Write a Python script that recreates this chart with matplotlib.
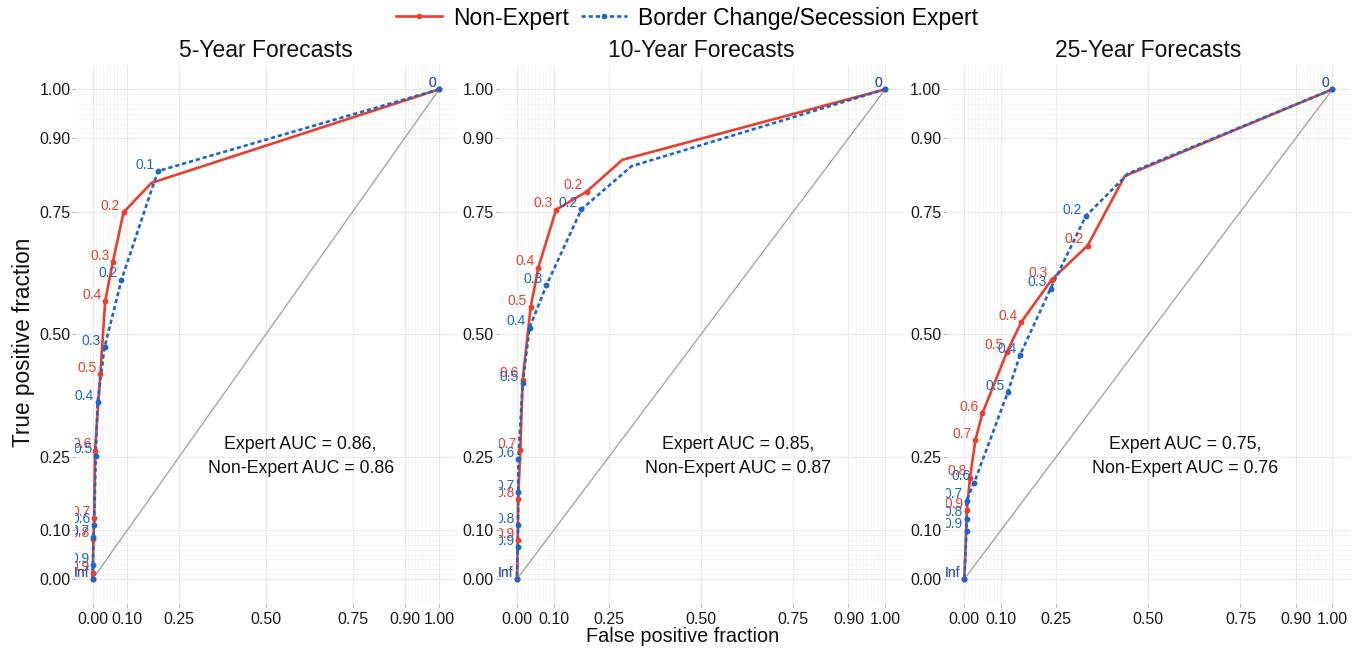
import matplotlib.pyplot as plt
from matplotlib.lines import Line2D

plt.rcParams['font.family'] = ['Liberation Sans', 'DejaVu Sans']

RED = "#EA3F2E"
BLUE = "#1D66C8"

titles = ["5-Year Forecasts", "10-Year Forecasts", "25-Year Forecasts"]
auc_expert = ["0.86", "0.85", "0.75"]
auc_non = ["0.86", "0.87", "0.76"]

# cutoff labels along each curve (None = vertex without a label)
non_labels = ["0", None, "0.2", "0.3", "0.4", "0.5", "0.6", "0.7", "0.8", "0.9", "Inf"]
exp_labels = ["0", None, "0.2", "0.3", "0.4", "0.5", "0.6", "0.7", "0.8", "0.9", "Inf"]
exp5_labels = ["0", "0.1", "0.2", "0.3", "0.4", "0.5", "0.6", "0.7", "0.9", "Inf"]

# 5-year
non5_fpr = [1.0, 0.170, 0.089, 0.058, 0.036, 0.022, 0.0066, 0.004, 0.002, 0.0005, 0.0]
non5_tpr = [1.0, 0.809, 0.749, 0.647, 0.568, 0.419, 0.262, 0.124, 0.082, 0.012, 0.0]
exp5_fpr = [1.0, 0.188, 0.083, 0.034, 0.014, 0.0087, 0.004, 0.002, 0.0005, 0.0]
exp5_tpr = [1.0, 0.833, 0.611, 0.473, 0.361, 0.252, 0.110, 0.085, 0.029, 0.0]

# 10-year
non10_fpr = [1.0, 0.286, 0.189, 0.106, 0.058, 0.037, 0.0154, 0.009, 0.003, 0.002, 0.0]
non10_tpr = [1.0, 0.856, 0.791, 0.754, 0.636, 0.555, 0.407, 0.263, 0.163, 0.080, 0.0]
exp10_fpr = [1.0, 0.311, 0.175, 0.080, 0.034, 0.0154, 0.0036, 0.003, 0.003, 0.002, 0.0]
exp10_tpr = [1.0, 0.843, 0.755, 0.600, 0.513, 0.400, 0.245, 0.178, 0.110, 0.065, 0.0]

# 25-year
non25_fpr = [1.0, 0.436, 0.335, 0.237, 0.155, 0.116, 0.049, 0.030, 0.0155, 0.007, 0.0]
non25_tpr = [1.0, 0.823, 0.681, 0.611, 0.525, 0.464, 0.338, 0.283, 0.207, 0.141, 0.0]
exp25_fpr = [1.0, 0.445, 0.330, 0.2345, 0.151, 0.118, 0.027, 0.006, 0.006, 0.006, 0.0]
exp25_tpr = [1.0, 0.828, 0.741, 0.593, 0.457, 0.381, 0.197, 0.160, 0.123, 0.099, 0.0]

panels = [
    (non5_fpr, non5_tpr, non_labels, exp5_fpr, exp5_tpr, exp5_labels),
    (non10_fpr, non10_tpr, non_labels, exp10_fpr, exp10_tpr, exp_labels),
    (non25_fpr, non25_tpr, non_labels, exp25_fpr, exp25_tpr, exp_labels),
]

breaks = [0, 0.1, 0.25, 0.5, 0.75, 0.9, 1.0]
break_labels = ["0.00", "0.10", "0.25", "0.50", "0.75", "0.90", "1.00"]
minor = [i / 100 for i in range(0, 11)] + [i / 100 for i in range(90, 101)]

W, H = 1354, 652
fig = plt.figure(figsize=(W / 100, H / 100), dpi=100)

# axes boxes in pixels: left, right (top/bottom shared)
boxes = [(75.4, 456.6), (498.6, 903.7), (945.9, 1350.9)]
top_px, bot_px = 64.8, 603.5


def draw_curve(ax, fpr, tpr, labels, color, ls):
    ax.plot(fpr, tpr, color=color, lw=1.9, ls=ls, zorder=3, solid_capstyle='butt')
    for x, y, lab in zip(fpr, tpr, labels):
        if lab is None:
            continue
        ax.plot(x, y, 'o', color=color, ms=3.2, zorder=4)
        ax.annotate(lab, (x, y), xytext=(-2.5, -0.5), textcoords='offset points',
                    ha='right', va='bottom', color=color, fontsize=10,
                    annotation_clip=False, clip_on=True, zorder=5)


for i, (l, r) in enumerate(boxes):
    ax = fig.add_axes([l / W, (H - bot_px) / H, (r - l) / W, (bot_px - top_px) / H])
    nf, nt, nl, ef, et, el = panels[i]

    ax.set_xlim(-0.05, 1.05)
    ax.set_ylim(-0.05, 1.05)
    ax.set_xticks(breaks)
    ax.set_xticklabels(break_labels)
    ax.set_yticks(breaks)
    ax.set_yticklabels(break_labels)
    ax.set_xticks(minor, minor=True)
    ax.set_yticks(minor, minor=True)
    ax.grid(which='major', color='#EBEBEB', lw=0.9)
    ax.grid(which='minor', color='#F3F3F3', lw=0.5)
    ax.set_axisbelow(True)
    for s in ax.spines.values():
        s.set_visible(False)
    ax.tick_params(which='major', length=2, width=0.5, color='#888888',
                   labelsize=11.5, labelcolor='#1a1a1a', pad=1.5)
    ax.tick_params(which='minor', length=0)
    ax.tick_params(axis='x', pad=4)

    ax.plot([0, 1], [0, 1], color='#A6A6A6', lw=1.0, zorder=2)
    draw_curve(ax, nf, nt, nl, RED, '-')
    draw_curve(ax, ef, et, el, BLUE, (0, (1.6, 1.1)))

    ax.text(0.6, 0.25, "Expert AUC = %s,\nNon-Expert AUC = %s" % (auc_expert[i], auc_non[i]),
            ha='center', va='center', fontsize=12.8, color='#111111', linespacing=1.5)
    ax.set_title(titles[i], fontsize=16.5, pad=5.5, color='#111111')

fig.text(683 / W, 1 - 637 / H, "False positive fraction", ha='center', va='center',
         fontsize=14.3, color='#111111')
fig.text(24 / W, 1 - 342 / H, "True positive fraction", ha='center', va='center',
         rotation=90, fontsize=16.3, color='#111111')

handles = [
    Line2D([0], [0], color=RED, lw=1.9, marker='o', ms=3),
    Line2D([0], [0], color=BLUE, lw=1.9, ls=(0, (1.6, 1.1)), marker='o', ms=3),
]
fig.legend(handles, ["Non-Expert", "Border Change/Secession Expert"], loc='center',
           bbox_to_anchor=(687 / W, 1 - 18 / H), ncol=2, frameon=False, fontsize=16.5,
           handlelength=2.0, handletextpad=0.5, columnspacing=0.5)

fig.savefig("out.png", dpi=100)
